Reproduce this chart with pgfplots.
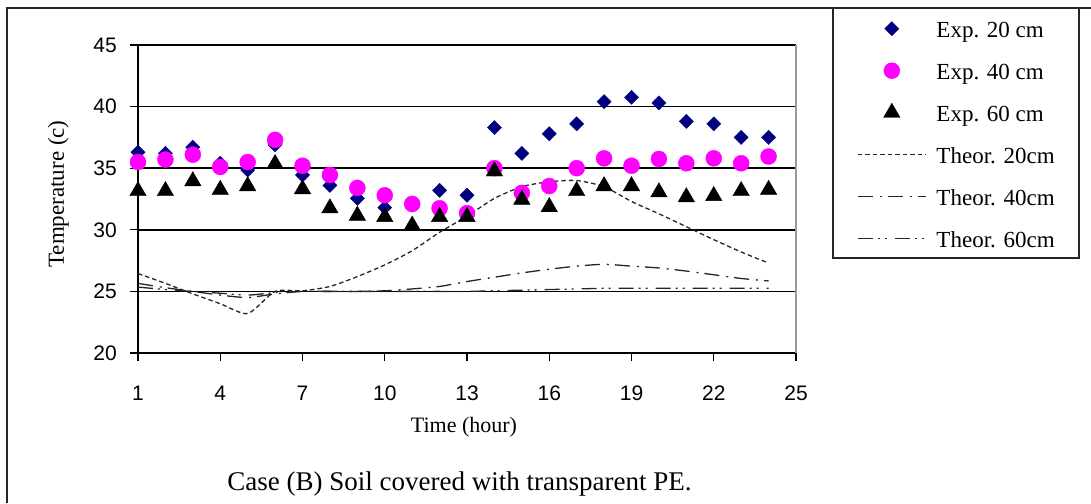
\documentclass[border=0pt]{standalone}
\usepackage{fontspec}
\setmainfont{Liberation Serif}
\newfontfamily\tickfont{Liberation Sans}
\usepackage{pgfplots}
\pgfplotsset{compat=1.18}
\definecolor{expnavy}{RGB}{0,0,128}
\definecolor{expmagenta}{RGB}{255,0,255}
\pgfplotsset{
  exp key/.style={legend image code/.code={\draw[##1] plot coordinates {(34pt,0pt)};}},
  theor key/.style={legend image code/.code={\draw[##1] (0pt,0pt) -- (68pt,0pt);}},
}

\begin{document}
\begin{tikzpicture}[x=1pt,y=1pt]
\useasboundingbox (0,0) rectangle (1091,503);
% outer frame (left and top edges) and the legend frame
\draw[line width=1.6pt, black!85] (7,0) -- (7,495) -- (1091,495);
\draw[line width=1.5pt, black!85, fill=white] (833,245) rectangle (1079,495);
\begin{axis}[
  at={(138pt,150pt)}, anchor=south west,
  x=27.4167pt, y=12.32pt,
  xmin=1, xmax=25, ymin=20, ymax=45,
  axis x line*=bottom, axis y line*=left,
  axis line style={black, line width=1.4pt},
  xtick={1,4,...,25}, ytick={20,25,...,45},
  tick align=outside, major tick length=8pt,
  tick style={black, line width=1.3pt},
  ymajorgrids, grid style={black, line width=1.5pt},
  ticklabel style={font=\tickfont\fontsize{21}{25}\selectfont},
  /pgf/number format/assume math mode=true,
  xticklabel style={anchor=base, inner sep=0pt, yshift=-39pt},
  yticklabel style={anchor=east, inner sep=0pt, xshift=-13pt},
  xlabel={Time (hour)}, ylabel={Temperature (c)},
  every axis x label/.style={at={(axis description cs:0.4954,-0.2565)}, anchor=base, font=\fontsize{22}{26}\selectfont},
  every axis y label/.style={at={(axis description cs:-0.1125,0.516)}, rotate=90, anchor=base, font=\fontsize{23}{27}\selectfont},
  legend cell align=left,
  legend style={at={(axis description cs:1.0562,1.1201)}, anchor=north west,
    draw=none, fill=none,
    inner xsep=24pt, inner ysep=10pt, row sep=21pt, column sep=10pt,
    nodes={inner sep=0pt, text height=19pt, text depth=2pt},
    font=\fontsize{23}{27}\selectfont},
  clip=false,
]
% right border of the plot area
\draw[gray!80, line width=1.2pt] (rel axis cs:1,0) -- (rel axis cs:1,1);

% measured temperatures
\addplot[only marks, mark=square*, mark size=5pt, mark options={rotate=45}, draw=expnavy, fill=expnavy, exp key]
  coordinates {
  (1,36.3) (2,36.2) (3,36.7) (4,35.4) (5,34.85) (6,36.9) (7,34.45) (8,33.6)
  (9,32.55) (10,31.8) (11,32.0) (12,33.2) (13,32.8) (14,38.3) (15,36.2) (16,37.8)
  (17,38.6) (18,40.4) (19,40.75) (20,40.3) (21,38.8) (22,38.6) (23,37.5) (24,37.5)};
\addlegendentry{Exp. 20 cm}

\addplot[only marks, mark=*, mark size=8pt, draw=expmagenta, fill=expmagenta, exp key]
  coordinates {
  (1,35.5) (2,35.7) (3,36.1) (4,35.1) (5,35.5) (6,37.3) (7,35.2) (8,34.45)
  (9,33.4) (10,32.8) (11,32.1) (12,31.75) (13,31.35) (14,35.0) (15,33.0) (16,33.55)
  (17,35.0) (18,35.8) (19,35.2) (20,35.75) (21,35.4) (22,35.8) (23,35.4) (24,35.95)};
\addlegendentry{Exp. 40 cm}

\addplot[only marks, mark=triangle*, mark size=9.5pt, draw=black, fill=black, exp key]
  coordinates {
  (1,33.15) (2,33.15) (3,33.95) (4,33.25) (5,33.55) (6,35.35) (7,33.3) (8,31.75)
  (9,31.15) (10,31.05) (11,30.35) (12,31.05) (13,31.05) (14,34.75) (15,32.45) (16,31.85)
  (17,33.15) (18,33.55) (19,33.55) (20,33.05) (21,32.65) (22,32.75) (23,33.15) (24,33.25)};
\addlegendentry{Exp. 60 cm}

% model predictions
\addplot[black!85, line width=1.3pt, dash pattern=on 4.5pt off 3pt, smooth, tension=0.4, theor key]
  coordinates {
  (1,26.45) (2,25.65) (3,24.8) (4,24.0) (5,23.2) (6,25.0) (7,25.05) (8,25.4)
  (9,26.2) (10,27.15) (11,28.3) (12,29.8) (13,31.1) (14,32.55) (15,33.5) (16,33.9)
  (17,34.0) (18,33.5) (19,32.3) (20,31.3) (21,30.25) (22,29.2) (23,28.2) (24,27.3)};
\addlegendentry{Theor. 20cm}

\addplot[black!85, line width=1.3pt, dash pattern=on 15pt off 7pt on 2pt off 6pt, smooth, tension=0.4, theor key]
  coordinates {
  (1,25.65) (2,25.3) (3,25.0) (4,24.7) (5,24.5) (6,24.8) (7,25.0) (8,25.0)
  (9,25.0) (10,25.05) (11,25.2) (12,25.4) (13,25.8) (14,26.15) (15,26.5) (16,26.8)
  (17,27.05) (18,27.2) (19,27.05) (20,26.9) (21,26.65) (22,26.35) (23,26.05) (24,25.85)};
\addlegendentry{Theor. 40cm}

\addplot[black!85, line width=1.3pt, dash pattern=on 15pt off 5pt on 2pt off 5pt on 2pt off 8pt, smooth, tension=0.4, theor key]
  coordinates {
  (1,25.35) (2,25.15) (3,25.0) (4,24.85) (5,24.7) (6,24.9) (7,25.0) (8,25.0)
  (9,25.0) (10,25.0) (11,25.0) (12,25.0) (13,25.0) (14,25.05) (15,25.1) (16,25.15)
  (17,25.2) (18,25.25) (19,25.25) (20,25.25) (21,25.25) (22,25.25) (23,25.25) (24,25.25)};
\addlegendentry{Theor. 60cm}
\end{axis}
\node[anchor=base, font=\fontsize{27}{31}\selectfont] at (459.5,13) {Case (B) Soil covered with transparent PE.};
\end{tikzpicture}
\end{document}
